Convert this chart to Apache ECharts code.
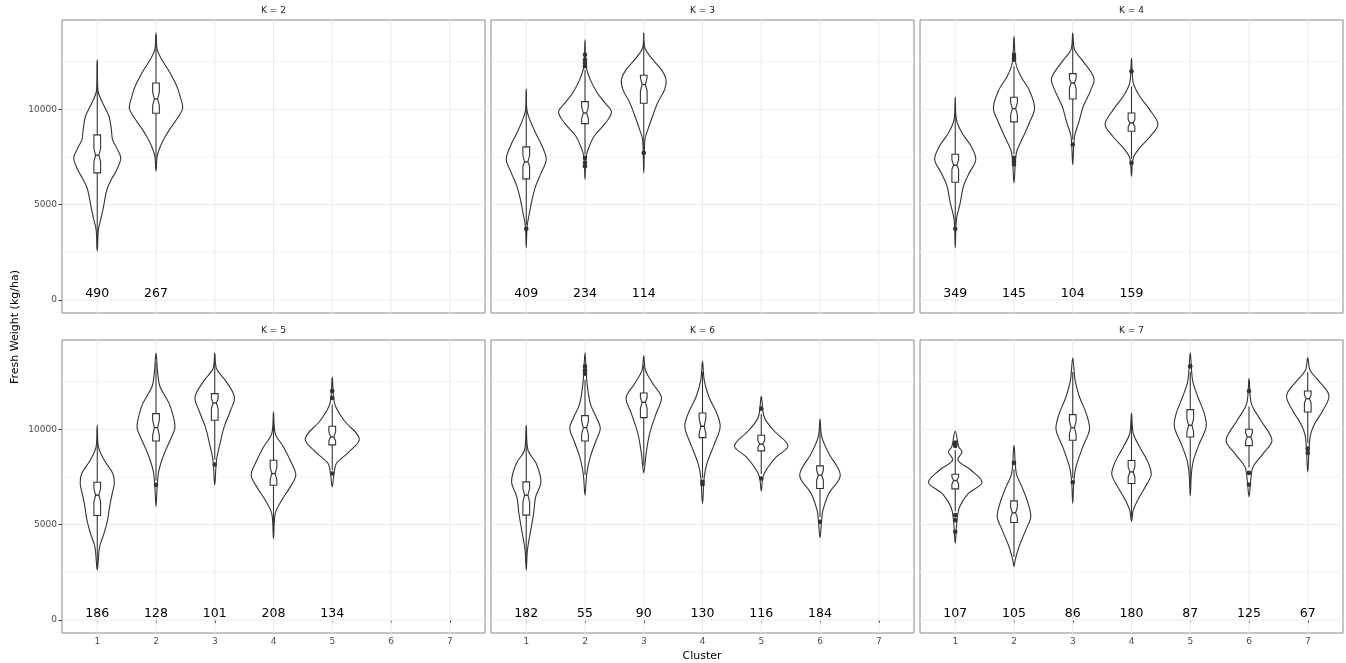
<!DOCTYPE html>
<html><head><meta charset="utf-8">
<script src="https://cdn.jsdelivr.net/npm/echarts@6/dist/echarts.min.js"></script>
<style>html,body{margin:0;padding:0;background:#fff}#c{width:1346px;height:663px}</style>
</head><body><div id="c"></div>
<script>
// ---------------- DATA ----------------
const panelTitles = ['K = 2', 'K = 3', 'K = 4', 'K = 5', 'K = 6', 'K = 7'];
const clusterTicks = [1, 2, 3, 4, 5, 6, 7];
const yTicks = [0, 5000, 10000];
const yMinorTicks = [2500, 7500, 12500];
const counts = [
  [490, 267],
  [409, 234, 114],
  [349, 145, 104, 159],
  [186, 128, 101, 208, 134],
  [182, 55, 90, 130, 116, 184],
  [107, 105, 86, 180, 87, 125, 67]
];
// box statistics, [panel][cluster]
const whiskerLow = [
  [2700, 6900],
  [3950, 7626, 7900],
  [3900, 7650, 8400, 7400],
  [2800, 7300, 8400, 4600, 7850],
  [3000, 7600, 8100, 7450, 7650, 5400],
  [5700, 3300, 7450, 5400, 7000, 8000, 9300]
];
const q1 = [
  [6667, 9791],
  [6353, 9250, 10314],
  [6178, 9337, 10541, 8848],
  [5480, 9389, 10471, 7068, 9180],
  [5497, 9389, 10611, 9563, 8866, 6894],
  [6876, 5114, 9424, 7155, 9598, 9145, 10908]
];
const notchLow = [
  [7243, 10200],
  [7016, 9529, 10950],
  [6850, 9721, 11100, 9075],
  [6195, 9686, 11082, 7365, 9389],
  [6200, 9750, 11100, 9773, 9040, 7330],
  [7120, 5370, 9750, 7500, 9860, 9390, 11380]
];
const medians = [
  [7592, 10541],
  [7243, 9808, 11300],
  [7068, 10035, 11379, 9284],
  [6545, 10087, 11379, 7679, 9598],
  [6545, 10087, 11414, 10157, 9215, 7592],
  [7312, 5620, 10087, 7766, 10210, 9598, 11606]
];
const notchHigh = [
  [7941, 10900],
  [7574, 10122, 11650],
  [7350, 10332, 11600, 9459],
  [6894, 10471, 11606, 7993, 9860],
  [6894, 10400, 11650, 10558, 9420, 7850],
  [7500, 5900, 10420, 8030, 10560, 9800, 11800]
];
const q3 = [
  [8656, 11379],
  [8028, 10401, 11780],
  [7644, 10628, 11867, 9808],
  [7225, 10820, 11867, 8377, 10157],
  [7243, 10716, 11902, 10855, 9686, 8080],
  [7644, 6248, 10768, 8360, 11030, 10000, 12007]
];
const whiskerHigh = [
  [12500, 13900],
  [10900, 12077, 13600],
  [10300, 12250, 13600, 11200],
  [10000, 13500, 13500, 10500, 11300],
  [9900, 12600, 13400, 13000, 10800, 10100],
  [8900, 7900, 13000, 10500, 13000, 11200, 13000]
];
const outliers = [
  [[], []],
  [[3735], [12862, 12600, 12426, 12252, 7452, 7190, 7016], [7714]],
  [[3735], [12862, 12700, 12600, 7452, 7277, 7103], [8150], [11990, 7190]],
  [[], [7086], [8150], [], [12007, 11640, 7679]],
  [[], [13298, 13089, 12914], [], [7243, 7120], [11082, 7417], [5148]],
  [[9302, 9215, 9127, 5497, 5236, 4625], [8237], [7225], [], [13298], [12007, 7714, 7103], [8988, 8761]]
];
// violin outlines: [value (kg/ha), half width (cluster units)]
const violinShapes = [
  [
    [[12600,0],[11030,0.01],[10680,0.04],[10157,0.12],[9634,0.20],[8936,0.24],[8412,0.26],[7976,0.33],[7452,0.40],[6841,0.335],[6318,0.24],[5794,0.165],[4922,0.108],[4223,0.06],[3700,0.02],[2565,0]],
    [[13996,0],[13124,0.02],[12600,0.10],[11902,0.24],[11204,0.355],[10680,0.41],[10070,0.455],[9634,0.385],[9110,0.27],[8586,0.16],[8063,0.075],[7539,0.02],[6754,0]]
  ],
  [
    [[11065,0],[9983,0.01],[9459,0.06],[8761,0.16],[8063,0.27],[7365,0.34],[6667,0.255],[5969,0.16],[5271,0.10],[4572,0.055],[3874,0.015],[2740,0]],
    [[13648,0],[12252,0.02],[11553,0.09],[10855,0.21],[10332,0.34],[9860,0.45],[9284,0.35],[8586,0.155],[8063,0.075],[7539,0.02],[6318,0]],
    [[13996,0],[13211,0.02],[12600,0.155],[12077,0.30],[11553,0.38],[11030,0.355],[10332,0.235],[9634,0.15],[8936,0.07],[8412,0.02],[6667,0]]
  ],
  [
    [[10646,0],[9459,0.02],[8761,0.115],[8063,0.27],[7365,0.35],[6667,0.24],[5969,0.14],[5097,0.085],[4223,0.02],[2740,0]],
    [[13822,0],[12426,0.03],[11728,0.115],[11030,0.255],[10070,0.35],[9284,0.26],[8412,0.135],[7714,0.04],[6143,0]],
    [[13996,0],[13124,0.03],[12600,0.155],[11640,0.36],[11030,0.31],[10157,0.18],[9284,0.10],[8586,0.03],[7103,0]],
    [[12688,0],[11379,0.03],[10680,0.14],[9983,0.31],[9197,0.45],[8586,0.32],[7976,0.14],[7452,0.03],[6492,0]]
  ],
  [
    [[10210,0],[9075,0.02],[8377,0.12],[7679,0.265],[7155,0.29],[6632,0.255],[5934,0.21],[5236,0.175],[4538,0.115],[3839,0.04],[2618,0]],
    [[13996,0],[12914,0.03],[12216,0.07],[11344,0.225],[10471,0.31],[10035,0.32],[9424,0.24],[8726,0.14],[7853,0.05],[6981,0.02],[5969,0]],
    [[13996,0],[13176,0.03],[12565,0.18],[11693,0.335],[10995,0.27],[10122,0.16],[9250,0.09],[8377,0.03],[7068,0]],
    [[10908,0],[9773,0.03],[9075,0.17],[8203,0.31],[7592,0.38],[6981,0.285],[6283,0.14],[5585,0.03],[4276,0]],
    [[12740,0],[11344,0.04],[10471,0.2],[9511,0.46],[8813,0.285],[8203,0.07],[7679,0.03],[6981,0]]
  ],
  [
    [[10210,0],[8901,0.03],[8203,0.17],[7243,0.25],[6457,0.16],[5585,0.125],[4712,0.077],[3665,0.02],[2618,0]],
    [[14014,0],[12565,0.03],[11344,0.09],[10646,0.19],[10035,0.26],[9424,0.19],[8552,0.09],[7679,0.03],[6545,0]],
    [[13857,0],[13089,0.03],[12391,0.155],[11658,0.30],[10820,0.21],[9773,0.10],[8726,0.04],[7714,0]],
    [[13560,0],[12565,0.03],[11693,0.11],[10820,0.245],[10122,0.30],[9250,0.205],[8203,0.075],[7504,0.03],[6108,0]],
    [[11728,0],[10646,0.05],[9948,0.21],[9127,0.455],[8552,0.255],[7941,0.10],[7504,0.03],[6771,0]],
    [[10524,0],[9598,0.03],[8726,0.15],[7592,0.345],[6632,0.15],[5759,0.05],[5323,0.03],[4311,0]]
  ],
  [
    [[9895,0],[9075,0.06],[8813,0.115],[8377,0.045],[7853,0.27],[7208,0.455],[6632,0.22],[5934,0.075],[5236,0.03],[4014,0]],
    [[9162,0],[7679,0.04],[6981,0.135],[6108,0.24],[5410,0.285],[4712,0.2],[3839,0.085],[3141,0.02],[2792,0]],
    [[13735,0],[12565,0.04],[11693,0.115],[10820,0.23],[10000,0.285],[9075,0.17],[8028,0.055],[7330,0.02],[6108,0]],
    [[10855,0],[9773,0.03],[9075,0.14],[8203,0.29],[7627,0.335],[6981,0.235],[6283,0.105],[5759,0.03],[5183,0]],
    [[14014,0],[12565,0.04],[11693,0.13],[10820,0.24],[10122,0.27],[9250,0.155],[8377,0.055],[7679,0.02],[6510,0]],
    [[12653,0],[11344,0.04],[10471,0.2],[9424,0.39],[8726,0.24],[8028,0.07],[7330,0.03],[6457,0]],
    [[13752,0],[13089,0.04],[12565,0.18],[11780,0.36],[10995,0.26],[10297,0.12],[9598,0.04],[7766,0]]
  ]
];

// ---------------- LAYOUT / STYLE ----------------
const FONT = 'DejaVu Sans';
const panelLeft = [62, 491, 920];
const panelTop = [20, 340];
const panelW = 423, panelH = 293;
const yMin = -680, yMax = 14680;
const countLabelY = 340;
const boxHalf = 0.057, notchHalf = 0.028;
const ink = '#333333';

const chart = echarts.init(document.getElementById('c'), null, {renderer: 'canvas'});

const grids = [], xAxes = [], yAxes = [], series = [], graphics = [];

panelTitles.forEach((title, p) => {
  const row = Math.floor(p / 3), col = p % 3;
  const bottom = row === 1, left = col === 0;
  grids.push({left: panelLeft[col], top: panelTop[row], width: panelW, height: panelH,
    show: true, borderColor: '#8a8a8a', borderWidth: 1, backgroundColor: '#fff'});
  xAxes.push({gridIndex: p, type: 'value', min: 0.4, max: 7.6,
    axisLine: {show: false}, splitLine: {show: false},
    axisTick: {show: bottom, customValues: clusterTicks, length: 3, lineStyle: {color: ink}},
    axisLabel: {show: bottom, customValues: clusterTicks, color: '#4d4d4d', fontSize: 9, margin: 4, fontFamily: FONT,
      formatter: v => String(v)}});
  yAxes.push({gridIndex: p, type: 'value', min: yMin, max: yMax,
    axisLine: {show: false}, splitLine: {show: false},
    axisTick: {show: left, customValues: yTicks, length: 3.5, lineStyle: {color: ink}},
    axisLabel: {show: left, customValues: yTicks, color: '#4d4d4d', fontSize: 9, margin: 5, fontFamily: FONT,
      formatter: v => String(v)}});

  // strip title
  graphics.push({type: 'text', x: panelLeft[col] + panelW / 2, y: panelTop[row] - 9,
    style: {text: title, fill: '#1a1a1a', font: '9px "' + FONT + '"', textAlign: 'center', textVerticalAlign: 'middle'}});

  // grid lines
  const gl = [];
  yTicks.forEach(v => gl.push([v, 0]));
  yMinorTicks.forEach(v => gl.push([v, 1]));
  clusterTicks.forEach(v => gl.push([v, 2]));
  series.push({type: 'custom', xAxisIndex: p, yAxisIndex: p, z: 1, silent: true, data: gl,
    renderItem(params, api) {
      const cs = params.coordSys;
      const v = api.value(0), kind = api.value(1);
      if (kind === 2) {
        const pt = api.coord([v, 0]);
        return {type: 'line', shape: {x1: pt[0], y1: cs.y, x2: pt[0], y2: cs.y + cs.height},
          style: {stroke: '#ebebeb', lineWidth: 1}};
      }
      const pt = api.coord([1, v]);
      return {type: 'line', shape: {x1: cs.x, y1: pt[1], x2: cs.x + cs.width, y2: pt[1]},
        style: {stroke: kind === 0 ? '#ebebeb' : '#f3f3f3', lineWidth: kind === 0 ? 1 : 0.8}};
    }});

  // violins + notched boxes + outliers
  const vdata = counts[p].map((n, i) => [i + 1, medians[p][i]]);
  series.push({type: 'custom', xAxisIndex: p, yAxisIndex: p, z: 3, silent: true, data: vdata,
    renderItem(params, api) {
      const i = params.dataIndex, x = i + 1;
      const c = (dx, v) => api.coord([x + dx, v]);
      const shape = violinShapes[p][i];
      const right = shape.map(d => c(d[1], d[0]));
      const leftSide = shape.slice(1, -1).reverse().map(d => c(-d[1], d[0]));
      const children = [];
      children.push({type: 'polygon', shape: {points: right.concat(leftSide), smooth: 0.35},
        style: {fill: '#fff', stroke: ink, lineWidth: 1.1}});
      const hi = q3[p][i], lo = q1[p][i], md = medians[p][i], nH = notchHigh[p][i], nL = notchLow[p][i];
      // whiskers
      let a = c(0, hi), b = c(0, whiskerHigh[p][i]);
      children.push({type: 'line', shape: {x1: a[0], y1: a[1], x2: b[0], y2: b[1]}, style: {stroke: ink, lineWidth: 1.1}});
      a = c(0, lo); b = c(0, whiskerLow[p][i]);
      children.push({type: 'line', shape: {x1: a[0], y1: a[1], x2: b[0], y2: b[1]}, style: {stroke: ink, lineWidth: 1.1}});
      // notched box
      const bx = [c(-boxHalf, hi), c(boxHalf, hi), c(boxHalf, nH), c(notchHalf, md), c(boxHalf, nL),
        c(boxHalf, lo), c(-boxHalf, lo), c(-boxHalf, nL), c(-notchHalf, md), c(-boxHalf, nH)];
      children.push({type: 'polygon', shape: {points: bx}, style: {fill: '#fff', stroke: ink, lineWidth: 1.1}});
      a = c(-notchHalf, md); b = c(notchHalf, md);
      children.push({type: 'line', shape: {x1: a[0], y1: a[1], x2: b[0], y2: b[1]}, style: {stroke: ink, lineWidth: 1.4}});
      // outliers
      outliers[p][i].forEach(v => {
        const o = c(0, v);
        children.push({type: 'circle', shape: {cx: o[0], cy: o[1], r: 2.3}, style: {fill: ink, stroke: null}});
      });
      return {type: 'group', children};
    }});

  // count labels
  series.push({type: 'custom', xAxisIndex: p, yAxisIndex: p, z: 4, silent: true,
    data: counts[p].map((n, i) => [i + 1, n]),
    renderItem(params, api) {
      const pt = api.coord([api.value(0), countLabelY]);
      return {type: 'text', x: pt[0], y: pt[1],
        style: {text: String(api.value(1)), fill: '#000', font: '12.5px "' + FONT + '"', textAlign: 'center', textVerticalAlign: 'middle'}};
    }});
});

// axis titles
graphics.push({type: 'text', x: 702, y: 656,
  style: {text: 'Cluster', fill: '#000', font: '11px "' + FONT + '"', textAlign: 'center', textVerticalAlign: 'middle'}});
graphics.push({type: 'text', x: 15, y: 327, rotation: Math.PI / 2,
  style: {text: 'Fresh Weight (kg/ha)', fill: '#000', font: '11px "' + FONT + '"', textAlign: 'center', textVerticalAlign: 'middle'}});

chart.setOption({
  animation: false,
  backgroundColor: '#fff',
  textStyle: {fontFamily: FONT},
  grid: grids, xAxis: xAxes, yAxis: yAxes, series: series, graphic: graphics
});
</script>
</body></html>
